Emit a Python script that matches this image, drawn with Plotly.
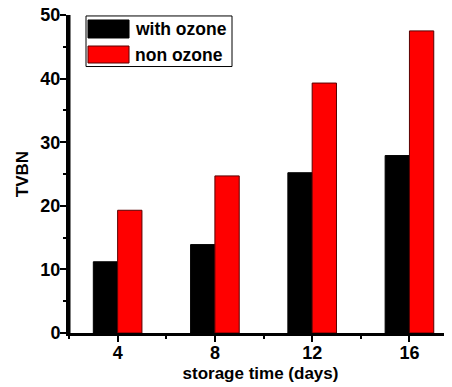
import plotly.graph_objects as go

days = [4, 8, 12, 16]
with_ozone = [11.2, 13.9, 25.2, 27.9]
non_ozone = [19.3, 24.7, 39.3, 47.5]
series_names = ["with ozone", "non ozone"]
y_ticks = [0, 10, 20, 30, 40, 50]

FONT = "Liberation Sans, Arial, sans-serif"
colors = ["#000000", "#ff0000"]
outlines = ["#000000", "#5a0000"]

fig = go.Figure()
for name, vals, c, oc in zip(series_names, [with_ozone, non_ozone], colors, outlines):
    fig.add_trace(go.Bar(x=days, y=vals, name=name,
                         marker=dict(color=c, line=dict(color=oc, width=1))))

# legend drawn as a framed box with wide swatches (like the original)
shapes = [dict(type="rect", xref="paper", yref="paper", x0=0.0444, x1=0.4256,
               y0=0.838, y1=0.997, line=dict(color="black", width=1), fillcolor="white", layer="above"),
          # left axis spine
          dict(type="line", xref="paper", yref="paper", x0=0, x1=0, y0=-0.004, y1=1,
               line=dict(color="black", width=3), layer="above")]
annotations = []
sw_y = [(0.9277, 0.9843), (0.849, 0.9025)]
for (y0, y1), name, c, oc in zip(sw_y, series_names, colors, outlines):
    shapes.append(dict(type="rect", xref="paper", yref="paper", x0=0.0496, x1=0.1567,
                       y0=y0, y1=y1, fillcolor=c, line=dict(color=oc, width=1), layer="above"))
    annotations.append(dict(xref="paper", yref="paper", x=0.168, y=(y0 + y1) / 2,
                            xanchor="left", yanchor="middle", showarrow=False, text=name,
                            font=dict(family=FONT, size=17.5, color="black", weight="bold")))

fig.update_layout(
    width=444, height=379,
    margin=dict(l=61, r=0, t=7, b=54),
    plot_bgcolor="white", paper_bgcolor="white",
    barmode="group", bargap=0.5, bargroupgap=0,
    font=dict(family=FONT, size=17, color="black", weight="bold"),
    showlegend=False,
    shapes=shapes, annotations=annotations,
    xaxis=dict(range=[2, 17.75], tickvals=days, ticktext=[str(d) for d in days],
               showline=True, linecolor="black", linewidth=3, automargin=False,
               ticks="outside", ticklen=6, tickwidth=2, tickcolor="black",
               ticklabelstandoff=-5,
               minor=dict(tickvals=[2, 6, 10, 14], ticks="outside", ticklen=3, tickwidth=2, tickcolor="black"),
               showgrid=False, zeroline=False,
               tickfont=dict(family=FONT, size=18, weight="bold"),
               title=dict(text="storage time (days)", standoff=6,
                          font=dict(family=FONT, size=17, weight="bold"))),
    yaxis=dict(range=[0, 50], tickvals=y_ticks, automargin=False,
               showline=True, linecolor="black", linewidth=3,
               ticks="outside", ticklen=6, tickwidth=2, tickcolor="black",
               ticklabelstandoff=-4, ticklabeloverflow="allow",
               minor=dict(tickvals=[5, 15, 25, 35, 45], ticks="outside", ticklen=3, tickwidth=2, tickcolor="black"),
               showgrid=False, zeroline=False,
               tickfont=dict(family=FONT, size=18, weight="bold"),
               title=dict(text="TVBN", standoff=8,
                          font=dict(family=FONT, size=17, weight="bold"))),
)

fig.write_html("out.html")
